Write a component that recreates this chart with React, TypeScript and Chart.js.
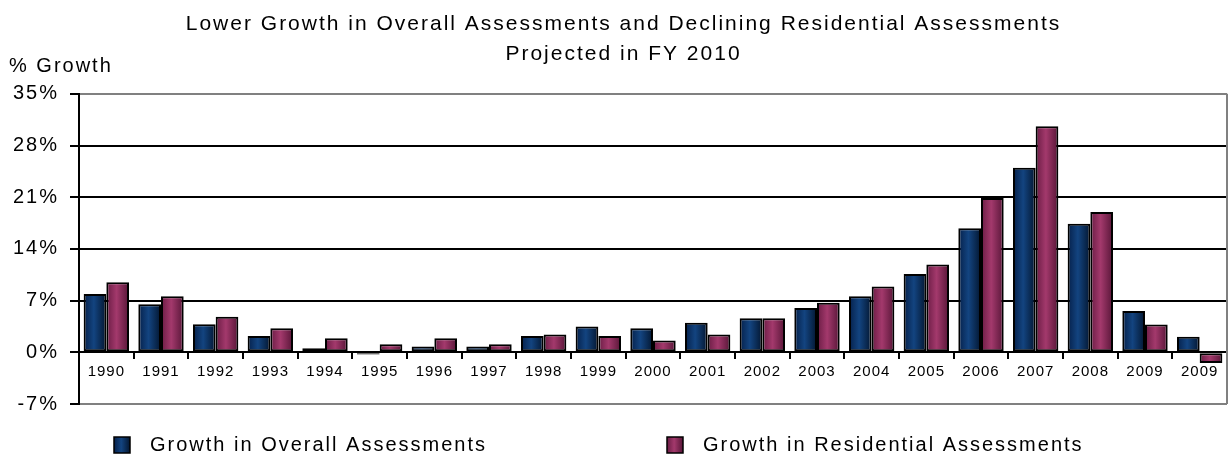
import React, { useEffect, useRef } from 'react';
import { Chart, registerables } from 'chart.js';

Chart.register(...registerables);

const categories = ['1990', '1991', '1992', '1993', '1994', '1995', '1996', '1997', '1998', '1999', '2000', '2001', '2002', '2003', '2004', '2005', '2006', '2007', '2008', '2009', '2009'];
const overallGrowth = [7.9, 6.5, 3.8, 2.2, 0.55, -0.3, 0.8, 0.8, 2.2, 3.5, 3.25, 4.0, 4.6, 6.0, 7.6, 10.6, 16.8, 25.0, 17.4, 5.6, 2.1];
const residentialGrowth = [9.5, 7.6, 4.8, 3.25, 1.9, 1.1, 1.9, 1.1, 2.4, 2.2, 1.6, 2.4, 4.6, 6.7, 8.9, 11.9, 20.9, 30.6, 19.0, 3.75, -1.45];
const yTicks = [-7, 0, 7, 14, 21, 28, 35];
const seriesLabels = ['Growth in Overall Assessments', 'Growth in Residential Assessments'];
const titleLines = ['Lower Growth in Overall Assessments and Declining Residential Assessments', 'Projected in FY 2010'];
const yAxisCaption = '% Growth';

const FONT = "'Liberation Sans', Arial, Helvetica, sans-serif";
const PALETTES = [
  ['#05204a', '#134480', '#031630'],
  ['#6a1c44', '#a3396c', '#571537'],
];
const CAT_PCT = 0.83;
const SPACING = '2px';
const X_LABEL_SPACING = '1px';

function makeGradient(ctx: CanvasRenderingContext2D, left: number, right: number, pal: string[]) {
  const g = ctx.createLinearGradient(left, 0, right, 0);
  g.addColorStop(0, pal[0]);
  g.addColorStop(0.45, pal[1]);
  g.addColorStop(1, pal[2]);
  return g;
}

function barFill(dsIndex: number) {
  return (c: any) => {
    const pal = PALETTES[dsIndex];
    const chart = c.chart;
    const xs = chart.scales && chart.scales.x;
    if (!chart.chartArea || !xs || c.type !== 'data') return pal[1];
    const center = xs.getPixelForValue(c.dataIndex);
    const catW = (xs.width / categories.length) * CAT_PCT;
    const barW = catW / 2;
    const left = center - catW / 2 + dsIndex * barW;
    return makeGradient(chart.ctx, left, left + barW, pal);
  };
}

const spacingPlugin = {
  id: 'letterSpacingPlugin',
  beforeLayout(chart: any) {
    chart.ctx.letterSpacing = SPACING;
  },
  afterLayout(chart: any) {
    // let the y tick labels use the full space left of the axis (no clipping)
    const ys = chart.scales.y;
    if (ys) ys.left = 0;
    const xs = chart.scales.x;
    if (xs && !xs.__spacingPatched) {
      const orig = xs.drawLabels.bind(xs);
      xs.drawLabels = (area: any) => {
        xs.ctx.letterSpacing = X_LABEL_SPACING;
        orig(area);
        xs.ctx.letterSpacing = SPACING;
      };
      xs.__spacingPatched = true;
    }
  },
  beforeDraw(chart: any) {
    chart.ctx.letterSpacing = SPACING;
  },
};

const frameAndLegendPlugin = {
  id: 'frameAndLegend',
  beforeDatasetsDraw(chart: any) {
    const { ctx, chartArea } = chart;
    ctx.save();
    ctx.strokeStyle = '#808080';
    ctx.lineWidth = 2;
    ctx.beginPath();
    ctx.moveTo(chartArea.right, chartArea.top);
    ctx.lineTo(chartArea.right, chartArea.bottom);
    ctx.stroke();
    ctx.restore();
  },
  afterDraw(chart: any) {
    const { ctx } = chart;
    ctx.save();
    ctx.letterSpacing = SPACING;
    ctx.fillStyle = '#000';
    ctx.font = `20px ${FONT}`;
    ctx.textAlign = 'left';
    ctx.textBaseline = 'middle';
    ctx.fillText(yAxisCaption, 9, 66);

    const boxX = [114, 667];
    const textX = [150, 703];
    const boxY = 437;
    const size = 16;
    chart.data.datasets.forEach((ds: any, i: number) => {
      ctx.fillStyle = makeGradient(ctx, boxX[i], boxX[i] + size, PALETTES[i]);
      ctx.fillRect(boxX[i], boxY, size, size);
      ctx.strokeStyle = '#000';
      ctx.lineWidth = 1.5;
      ctx.strokeRect(boxX[i], boxY, size, size);
      ctx.fillStyle = '#000';
      ctx.fillText(ds.label, textX[i], boxY + size / 2);
    });
    ctx.restore();
  },
};

export default function App() {
  const ref = useRef<HTMLCanvasElement>(null);

  useEffect(() => {
    const canvas = ref.current;
    if (!canvas) return;
    const chart = new Chart(canvas, {
      type: 'bar',
      data: {
        labels: categories,
        datasets: [
          {
            label: seriesLabels[0],
            data: overallGrowth,
            backgroundColor: barFill(0),
            borderColor: '#000',
            borderWidth: 2,
            borderSkipped: false,
            categoryPercentage: CAT_PCT,
            barPercentage: 1,
          },
          {
            label: seriesLabels[1],
            data: residentialGrowth,
            backgroundColor: barFill(1),
            borderColor: '#000',
            borderWidth: 2,
            borderSkipped: false,
            categoryPercentage: CAT_PCT,
            barPercentage: 1,
          },
        ],
      },
      options: {
        responsive: false,
        animation: false,
        events: [],
        layout: { padding: { left: 20, right: 3, top: 0, bottom: 52 } },
        plugins: {
          legend: { display: false },
          tooltip: { enabled: false },
          title: {
            display: true,
            text: titleLines,
            color: '#000',
            font: { family: FONT, size: 21, weight: 'normal', lineHeight: 1.4 },
            padding: { top: 10, bottom: 25 },
          },
        },
        scales: {
          x: {
            type: 'category',
            position: { y: 0 } as any,
            offset: true,
            grid: {
              drawOnChartArea: false,
              drawTicks: true,
              tickLength: 6,
              color: '#000',
              lineWidth: 2,
              offset: true,
            },
            border: { color: '#000', width: 2 },
            ticks: {
              color: '#000',
              font: { family: FONT, size: 15 },
              padding: 5,
              maxRotation: 0,
              autoSkip: false,
            },
          },
          y: {
            min: -7,
            max: 35,
            afterBuildTicks: (s: any) => {
              s.ticks = yTicks.map((v) => ({ value: v }));
            },
            afterFit: (s: any) => {
              s.width = 59;
            },
            border: { color: '#000', width: 2 },
            grid: {
              color: (c: any) => (c.tick && (c.tick.value === 35 || c.tick.value === -7) ? '#808080' : '#000'),
              lineWidth: 2,
              tickColor: '#000',
              tickLength: 9,
              tickWidth: 2,
            } as any,
            ticks: {
              color: '#000',
              font: { family: FONT, size: 20 },
              padding: 11,
              callback: (v: any) => `${v}%`,
            },
          },
        },
      },
      plugins: [spacingPlugin, frameAndLegendPlugin],
    } as any);
    return () => chart.destroy();
  }, []);

  return (
    <div style={{ position: 'absolute', left: 0, top: 0, width: 1230, height: 456, background: '#fff' }}>
      <canvas ref={ref} width={1230} height={456} style={{ display: 'block' }} />
    </div>
  );
}
